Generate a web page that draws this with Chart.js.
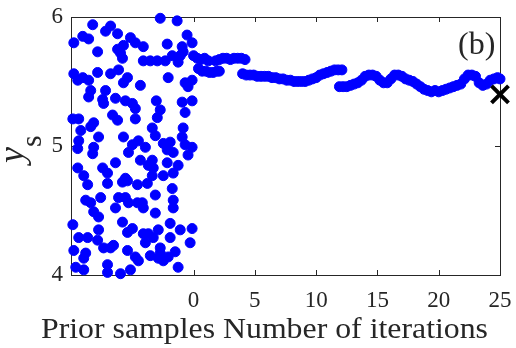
<!DOCTYPE html>
<html>
<head>
<meta charset="utf-8">
<script src="https://cdn.jsdelivr.net/npm/chart.js@4"></script>
<style>
  html, body { margin: 0; padding: 0; background: #fff; }
  #wrap { width: 516px; height: 348px; position: relative; }
</style>
</head>
<body>
<div id="wrap"><canvas id="chart"></canvas></div>
<script>
// prior samples (drawn left of 0)
var priorX = [-8.23,-2.72,-1.34,-6.77,-7.18,-6.2,-9.77,-9.04,-8.56,-5.15,-4.75,-4.1,-0.53,-0.12,-0.93,-2.15,-6.2,-5.72,-5.96,-5.8,
  -7.83,-4.1,-3.53,-2.96,-2.31,-1.74,-1.26,-0.85,-1.09,-9.77,-9.45,-9.04,-8.56,-7.83,-6.77,-6.12,-5.39,-5.72,-2.07,-4.34,
  -0.69,-0.12,-0.45,-8.56,-8.39,-7.18,-7.42,-7.34,-6.37,-5.56,-4.99,-4.75,-4.75,-3.04,-2.72,-2.96,-0.93,-0.12,-0.69,-9.85,
  -9.37,-6.61,-6.2,-9.2,-9.37,-9.45,-8.15,-8.39,-7.75,-8.15,-8.23,-5.72,-3.37,-3.12,-0.85,-5.31,-4.99,-4.5,-3.93,-2.47,
  -2.15,-1.91,-1.66,-0.93,-0.69,-0.12,-0.45,-4.34,-3.37,-3.29,-2.15,-1.26,-9.45,-8.96,-7.42,-7.02,-6.37,-5.56,-8.64,-7.02,
  -5.8,-5.39,-4.58,-3.77,-3.69,-3.37,-2.47,-1.66,-1.74,-8.8,-8.39,-8.15,-7.75,-7.58,-9.85,-6.37,-6.12,-5.56,-5.31,-4.58,
  -4.18,-4.1,-3.12,-3.12,-1.66,-1.66,-5.8,-7.75,-5.39,-4.99,-1.91,-2.88,-9.37,-8.64,-7.83,-7.34,-6.77,-6.53,-4.1,-3.69,
  -3.29,-3.93,-1.91,-1.09,-0.12,-0.28,-9.77,-8.8,-8.96,-5.39,-4.75,-4.5,-3.53,-2.72,-2.72,-2.88,-2.47,-2.07,-1.5,-9.61,
  -8.96,-7.02,-7.02,-5.96,-5.15,-1.26];
var priorY = [5.94,5.99,5.97,5.93,5.89,5.87,5.8,5.85,5.83,5.84,5.8,5.77,5.86,5.8,5.77,5.79,5.75,5.78,5.72,5.68,
  5.73,5.66,5.66,5.66,5.66,5.7,5.65,5.73,5.7,5.56,5.51,5.53,5.51,5.57,5.56,5.59,5.53,5.49,5.53,5.47,
  5.49,5.51,5.46,5.38,5.43,5.43,5.36,5.33,5.37,5.35,5.33,5.29,5.21,5.35,5.28,5.22,5.34,5.35,5.26,5.21,
  5.21,5.24,5.2,5.12,5.04,4.98,5.18,5.15,5.07,4.99,4.94,5.07,5.14,5.08,5.14,4.95,5.01,5.04,4.99,5.02,
  4.97,5.03,4.95,5.07,5.01,4.99,4.93,4.89,4.89,4.83,4.87,4.85,4.83,4.77,4.83,4.79,4.87,4.75,4.7,4.71,
  4.72,4.73,4.7,4.71,4.85,4.77,4.77,4.79,4.67,4.58,4.56,4.49,4.45,4.6,4.39,4.52,4.6,4.6,4.56,4.56,
  4.56,4.52,4.62,4.48,4.58,4.52,4.41,4.35,4.33,4.36,4.4,4.35,4.29,4.29,4.27,4.21,4.21,4.23,4.32,4.32,
  4.29,4.25,4.29,4.35,4.36,4.25,4.19,4.17,4.13,4.19,4.14,4.11,4.15,4.21,4.17,4.13,4.11,4.14,4.18,4.06,
  4.04,4.08,4.02,4.01,4.04,4.06];

// iterations 0..25
var iterX = [0,0.3,0.6,0.9,1.2,
  0.4,0.7,1.0,1.3,1.6,1.9,2.1,
  1.8,2.1,2.4,2.7,3.0,3.3,3.6,3.9,4.2,
  4.0,4.3,4.6,4.9,5.2,5.5,5.8,6.1,6.4,6.7,7.0,7.3,7.6,7.9,8.2,8.5,8.8,9.1,9.4,9.7,10.0,10.3,10.6,10.9,11.2,11.5,11.8,12.1,
  11.9,12.2,12.5,12.8,13.1,13.4,13.7,14.0,14.3,14.6,14.9,15.2,15.5,15.8,16.1,16.4,16.7,17.0,17.3,17.6,17.9,18.2,18.5,18.8,
  19.1,19.4,19.7,20.0,20.3,20.6,20.9,21.2,21.5,21.8,22.1,22.4,22.7,23.0,23.3,23.6,23.9,24.2,24.5,24.8,25.0];
var iterY = [5.70,5.68,5.67,5.68,5.66,
  5.60,5.58,5.58,5.57,5.57,5.58,5.58,
  5.66,5.67,5.68,5.68,5.67,5.68,5.68,5.68,5.67,
  5.56,5.55,5.55,5.55,5.54,5.54,5.54,5.54,5.53,5.53,5.52,5.52,5.51,5.51,5.50,5.50,5.50,5.50,5.51,5.52,5.53,5.55,5.56,5.57,5.58,5.59,5.59,5.59,
  5.46,5.46,5.46,5.47,5.48,5.49,5.51,5.54,5.55,5.55,5.54,5.51,5.49,5.49,5.52,5.55,5.55,5.54,5.52,5.51,5.50,5.48,5.46,5.44,
  5.43,5.42,5.43,5.42,5.43,5.44,5.45,5.46,5.47,5.48,5.52,5.55,5.55,5.54,5.49,5.47,5.48,5.51,5.52,5.53,5.52];

var finalX = [25];
var finalY = [5.40];

var xTicks = [0, 5, 10, 15, 20, 25];
var yTicks = [4, 5, 6];

function pts(xs, ys) { return xs.map(function (x, i) { return { x: x, y: ys[i] }; }); }

var axisColor = '#262626';
var serif = '"Liberation Serif", "DejaVu Serif", serif';

// box + inward ticks, MATLAB style
var frame = {
  id: 'frame',
  beforeDatasetsDraw: function (chart) {
    var c = chart.ctx, a = chart.chartArea, sx = chart.scales.x, sy = chart.scales.y;
    c.save();
    c.strokeStyle = axisColor;
    c.lineWidth = 1;
    c.strokeRect(a.left + 0.5, a.top + 0.5, a.right - a.left, a.bottom - a.top);
    c.beginPath();
    xTicks.forEach(function (v) {
      var p = Math.round(sx.getPixelForValue(v)) + 0.5;
      c.moveTo(p, a.bottom); c.lineTo(p, a.bottom - 5);
      c.moveTo(p, a.top); c.lineTo(p, a.top + 5);
    });
    yTicks.forEach(function (v) {
      var p = Math.round(sy.getPixelForValue(v)) + 0.5;
      c.moveTo(a.left, p); c.lineTo(a.left + 5, p);
      c.moveTo(a.right, p); c.lineTo(a.right - 5, p);
    });
    c.stroke();
    c.restore();
  },
  afterDraw: function (chart) {
    var c = chart.ctx;
    c.save();
    c.fillStyle = axisColor;
    c.textBaseline = 'alphabetic';
    c.textAlign = 'left';
    // x label, stretched a little to the reference width
    var xl = 'Prior samples Number of iterations';
    c.font = '29px ' + serif;
    var w = c.measureText(xl).width;
    c.save();
    c.translate(41, 338);
    c.scale(447 / w, 1);
    c.fillText(xl, 0, 0);
    c.restore();
    // (b)
    c.font = '32px ' + serif;
    c.fillText('(b)', 458, 54);
    // y label: y with subscript s
    c.translate(23, 163);
    c.rotate(-Math.PI / 2);
    c.font = 'italic 36px ' + serif;
    c.fillText('y', 0, 0);
    c.font = '30px ' + serif;
    c.fillText('s', 16, 18);
    c.restore();
  }
};

var ctx = document.getElementById('chart').getContext('2d');
var grafik = new Chart(ctx, {
  type: 'scatter',
  data: {
    datasets: [{
      label: 'final',
      data: pts(finalX, finalY),
      pointStyle: 'crossRot',
      pointRadius: 12,
      borderWidth: 4,
      borderColor: '#000',
      backgroundColor: '#000',
      order: 0
    }, {
      label: 'iterations',
      data: pts(iterX, iterY),
      pointRadius: 5,
      borderWidth: 1,
      borderColor: '#0000ff',
      backgroundColor: '#0000ff',
      order: 1
    }, {
      label: 'prior',
      data: pts(priorX, priorY),
      pointRadius: 5,
      borderWidth: 1,
      borderColor: '#0000ff',
      backgroundColor: '#0000ff',
      order: 2
    }]
  },
  options: {
    responsive: true,
    maintainAspectRatio: false,
    animation: false,
    clip: false,
    layout: { padding: { top: 17, right: 14, left: 0, bottom: 0 } },
    plugins: {
      legend: { display: false },
      tooltip: { enabled: false }
    },
    elements: { point: { hoverRadius: 5 } },
    scales: {
      x: {
        type: 'linear',
        min: -10,
        max: 25,
        afterBuildTicks: function (s) { s.ticks = xTicks.map(function (v) { return { value: v }; }); },
        afterFit: function (s) { s.height = 73; s.paddingLeft = 0; s.paddingRight = 0; },
        grid: { display: false, drawTicks: false },
        border: { display: false },
        ticks: { color: axisColor, font: { family: serif, size: 23 }, padding: 12, maxRotation: 0 }
      },
      y: {
        type: 'linear',
        min: 4,
        max: 6,
        afterBuildTicks: function (s) { s.ticks = yTicks.map(function (v) { return { value: v }; }); },
        afterFit: function (s) { s.width = 71; s.paddingTop = 0; s.paddingBottom = 0; },
        grid: { display: false, drawTicks: false },
        border: { display: false },
        ticks: { color: axisColor, font: { family: serif, size: 23 }, padding: 8 }
      }
    }
  },
  plugins: [frame]
});
</script>
</body>
</html>
